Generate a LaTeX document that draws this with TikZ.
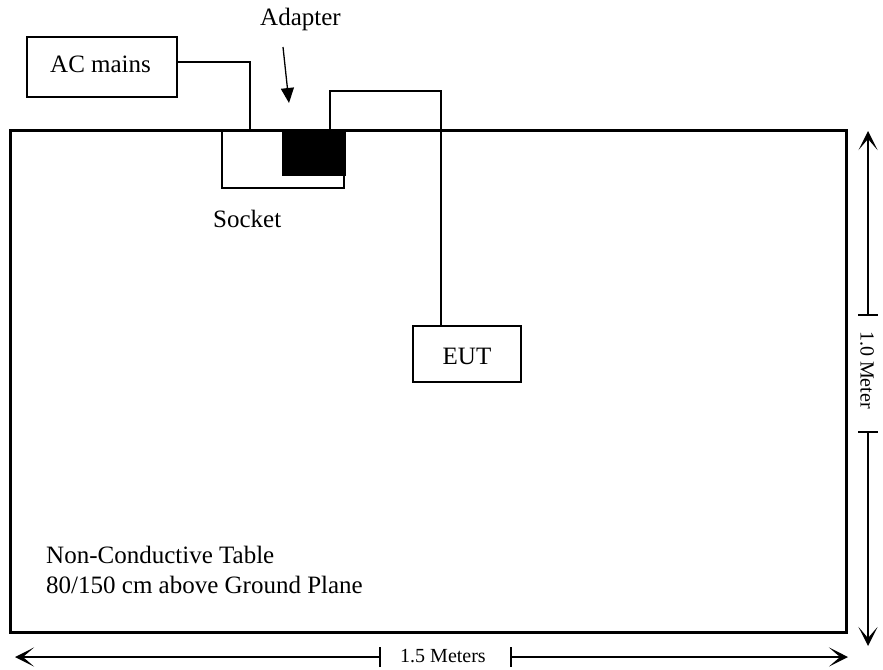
\documentclass[tikz,border=0pt]{standalone}
\usepackage{fontspec}
\setmainfont{Liberation Serif}
\usetikzlibrary{arrows.meta}
\begin{document}
\begin{tikzpicture}[x=1pt,y=-1pt,
  lbl/.style={font=\fontsize{25}{30}\selectfont, inner sep=0pt},
  dimlbl/.style={font=\fontsize{20}{24}\selectfont, inner sep=0pt},
  box/.style={draw, line width=1.5pt, inner sep=0pt, outer sep=0pt},
  wire/.style={line width=1.5pt},
  dim/.style={line width=1.6pt, -{Stealth[length=19pt,width=19pt,inset=11pt]}},
  pointer/.style={line width=1.3pt, -{Triangle[length=15pt,width=13pt]}},
]
\useasboundingbox (0,0) rectangle (883,669);
% table
\node[box, line width=3pt, minimum width=836pt, minimum height=502pt] (table) at (428,381) {};
% boxes
\node[box, minimum width=150pt, minimum height=60pt] (ac) at (102,67) {};
\node[lbl, anchor=base west] (actext) at (50,72) {AC mains};
\node[box, minimum width=122pt, minimum height=58pt] (socket) at (283,159) {};
\node[box, fill=black, minimum width=62pt, minimum height=45pt] (adapter) at (314,152.5) {};
\node[box, minimum width=108pt, minimum height=56pt] (eut) at (467,354) {};
\node[lbl] (euttext) at (467,356) {EUT};
% labels
\node[lbl, anchor=base west] (adlabel) at (260,26) {Adapter};
\node[lbl, anchor=base west] (socklabel) at (213,227) {Socket};
\node[lbl, anchor=base west] (tab1) at (46,563) {Non-Conductive Table};
\node[lbl, anchor=base west] (tab2) at (46,593) {80/150 cm above Ground Plane};
% wires
\coordinate (acin) at (250,130);
\draw[wire] ([yshift=5pt]ac.east) -| (acin);
\coordinate (adout) at (330,130);
\coordinate (bend) at (441,91);
\coordinate (eutin) at (441,326);
\draw[wire] (adout) |- (bend) -- (eutin);
% adapter pointer
\coordinate (pstart) at (283,47);
\coordinate (ptip) at (289,103);
\draw[pointer] (pstart) -- (ptip);
% horizontal dimension
\coordinate (hl) at (15,657);
\coordinate (hr) at (848,657);
\coordinate (ht1) at (380,657);
\coordinate (ht2) at (511,657);
\draw[dim] (ht1) -- (hl);
\draw[dim] (ht2) -- (hr);
\draw[wire] ([yshift=10pt]ht1) -- ([yshift=-10pt]ht1);
\draw[wire] ([yshift=10pt]ht2) -- ([yshift=-10pt]ht2);
\node[dimlbl] (hlabel) at (443,656) {1.5 Meters};
% vertical dimension
\coordinate (vt) at (868,131);
\coordinate (vb) at (868,646);
\coordinate (vt1) at (868,315);
\coordinate (vt2) at (868,432);
\draw[dim] (vt1) -- (vt);
\draw[dim] (vt2) -- (vb);
\draw[wire] ([xshift=-10pt]vt1) -- ([xshift=10pt]vt1);
\draw[wire] ([xshift=-10pt]vt2) -- ([xshift=10pt]vt2);
\node[dimlbl, rotate=-90] (vlabel) at (867,370) {1.0 Meter};
\end{tikzpicture}
\end{document}
